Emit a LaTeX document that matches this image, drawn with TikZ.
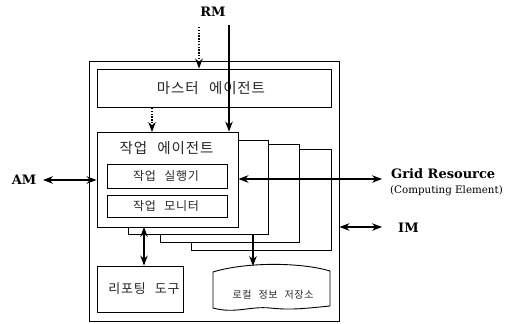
\documentclass[tikz,border=0pt]{standalone}
\usepackage{fontspec}
\setmainfont{DejaVu Serif}
\newfontfamily\kr[WordSpace=2.5,LetterSpace=6]{Noto Sans CJK KR}
\usetikzlibrary{arrows.meta}
\tikzset{
  box/.style={draw=black, line width=0.9pt, fill=white, inner sep=0pt},
  conn/.style={line width=1.1pt},
  dots/.style={line width=1.4pt, dash pattern=on 1.4pt off 1.4pt},
  tip/.style={-{Stealth[length=10pt,width=7.5pt]}},
  dtip/.style={{Stealth[length=10pt,width=7.5pt]}-{Stealth[length=10pt,width=7.5pt]}},
  lbl/.style={font=\bfseries\fontsize{13}{15}\selectfont, inner sep=0pt},
  krl/.style={font=\kr\fontsize{12}{14}\selectfont, text=black!85, inner sep=0pt},
}
\begin{document}
\begin{tikzpicture}[x=1pt,y=-1pt]
\useasboundingbox (0,0) rectangle (523,324);
% outer frame
\node[box, minimum width=250pt, minimum height=260pt] (outer) at (214,191) {};
% master agent
\node[box, minimum width=234pt, minimum height=38pt] (master) at (214,88) {};
\node[krl, font=\kr\fontsize{14.5}{17}\selectfont] (mastert) at (211,88.5) {마스터 에이전트};
% stacked job agents
\node[box, minimum width=140pt, minimum height=101pt] (s4) at (261,199.5) {};
\node[box, minimum width=139pt, minimum height=98pt] (s3) at (229.5,193) {};
\node[box, minimum width=140pt, minimum height=94pt] (s2) at (198,187) {};
\node[box, minimum width=141pt, minimum height=95pt] (job) at (167.5,179.5) {};
\node[krl, font=\kr\fontsize{14.5}{17}\selectfont] (jobt) at (166.5,148.5) {작업 에이전트};
\node[box, minimum width=120pt, minimum height=24pt] (exec) at (167,176) {};
\node[krl] (exect) at (166,176) {작업 실행기};
\node[box, minimum width=120pt, minimum height=22pt] (mon) at (167,206) {};
\node[krl] (mont) at (166,206) {작업 모니터};
% reporting tool
\node[box, minimum width=86pt, minimum height=46pt] (rep) at (140,289) {};
\node[krl, font=\kr\fontsize{13}{15}\selectfont] (rept) at (144,289) {리포팅 도구};
% local storage
\coordinate (stTop) at (253,266);
\draw[line width=0.9pt, fill=white] (213,272) .. controls (245,262) and (300,262) .. (330,271)
  -- (330,306) .. controls (300,309) and (290,310) .. (270,308)
  .. controls (250,306) and (235,314) .. (213,308) -- cycle;
\node[krl, font=\kr\fontsize{10}{12}\selectfont] (stt) at (273,295) {로컬 정보 저장소};
% external labels
\node[lbl] (rm) at (213,12) {RM};
\node[lbl] (am) at (24,180) {AM};
\node[lbl, anchor=west] (grid) at (391,174) {Grid Resource};
\node[font=\fontsize{10.3}{12}\selectfont, anchor=west, inner sep=0pt] (ce) at (390,191) {(Computing Element)};
\node[lbl, anchor=west] (im) at (398,228) {IM};
% coordinates for connectors
\coordinate (rmA) at (199,27);
\coordinate (rmB) at (229,25);
\coordinate (amR) at (43,180);
\coordinate (gridL) at (382,179);
\coordinate (imL) at (382,227);
\coordinate (repA) at (144,227);
\coordinate (mdA) at (152,108);
\coordinate (mdB) at (152,132);
\coordinate (stA) at (253,234);
% connectors
\draw[dots, tip] (rmA) -- (rmA |- master.north);
\draw[conn, tip] (rmB) -- (rmB |- job.north);
\draw[dots, tip] (mdA) -- (mdB);
\draw[conn, dtip] (amR) -- (job.west |- amR);
\draw[conn, dtip] (job.east |- gridL) -- (gridL);
\draw[conn, dtip] (outer.east |- imL) -- (imL);
\draw[conn, dtip] (repA) -- (repA |- rep.north);
\draw[conn, tip] (stA) -- (stTop);
\end{tikzpicture}
\end{document}
